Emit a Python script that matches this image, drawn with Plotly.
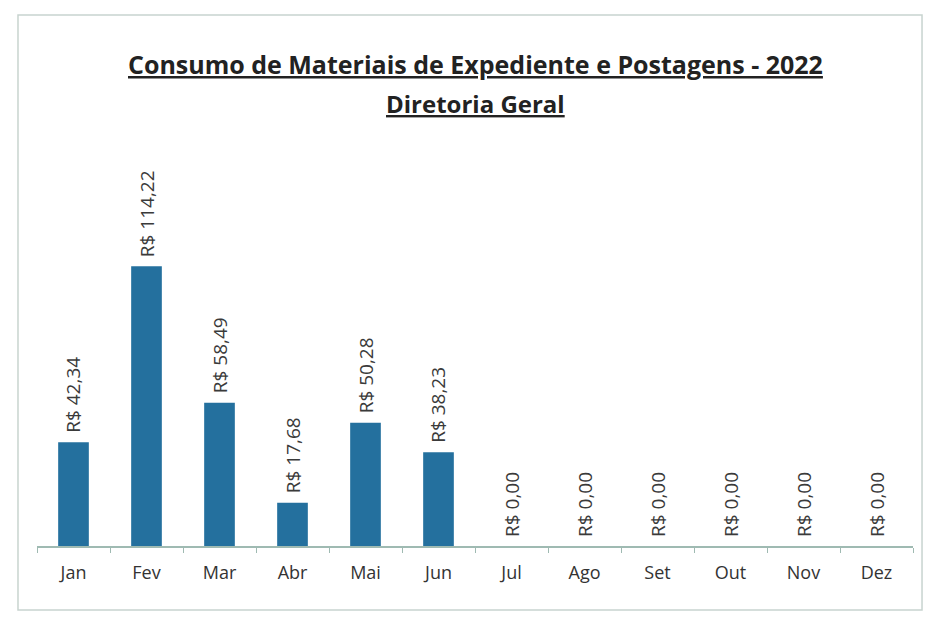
import plotly.graph_objects as go

months = ["Jan", "Fev", "Mar", "Abr", "Mai", "Jun", "Jul", "Ago", "Set", "Out", "Nov", "Dez"]
values = [42.34, 114.22, 58.49, 17.68, 50.28, 38.23, 0, 0, 0, 0, 0, 0]
labels = ["R$ 42,34", "R$ 114,22", "R$ 58,49", "R$ 17,68", "R$ 50,28", "R$ 38,23",
          "R$ 0,00", "R$ 0,00", "R$ 0,00", "R$ 0,00", "R$ 0,00", "R$ 0,00"]
title_line1 = "Consumo de Materiais de Expediente e Postagens - 2022"
title_line2 = "Diretoria Geral"

FONT = "Open Sans"

fig = go.Figure(go.Bar(
    x=months, y=values,
    marker=dict(color="#24709e", line=dict(width=0)),
))

# value labels, anchored to each bar top via the data axes
label_annotations = [
    dict(x=m, y=v, xref="x", yref="y", text=t, showarrow=False,
         textangle=-90, xanchor="center", yanchor="bottom", yshift=7,
         font=dict(family=FONT, size=19, color="#3a3a3a"))
    for m, v, t in zip(months, values, labels)
]

fig.update_layout(
    width=932, height=620,
    margin=dict(l=29, r=27, t=146, b=82),
    paper_bgcolor="white", plot_bgcolor="white",
    bargap=0.58,
    showlegend=False,
    font=dict(family=FONT, color="#333333"),
    xaxis=dict(
        showline=True, linecolor="#9fbab2", linewidth=1.5,
        ticks="outside", tickson="boundaries", ticklen=5, tickcolor="#9fbab2",
        ticklabelstandoff=10,
        tickfont=dict(size=18, color="#333333"), showgrid=False,
    ),
    yaxis=dict(range=[0, 160], visible=False, showgrid=False, zeroline=False),
    annotations=label_annotations + [
        dict(text="<b><u>" + title_line1 + "</u></b>", xref="paper", yref="paper",
             x=0.5, y=1, yshift=90, showarrow=False, xanchor="center", yanchor="middle",
             font=dict(size=25, color="#222222", family=FONT)),
        dict(text="<b><u>" + title_line2 + "</u></b>", xref="paper", yref="paper",
             x=0.5, y=1, yshift=51, showarrow=False, xanchor="center", yanchor="middle",
             font=dict(size=24, color="#222222", family=FONT)),
    ],
    shapes=[dict(type="rect", xref="paper", yref="paper",
                 x0=-0.0217, x1=1.0103, y0=-0.163, y1=1.3546,
                 line=dict(color="#c8d4cf", width=1.5))],
)

fig.write_html("out.html")
